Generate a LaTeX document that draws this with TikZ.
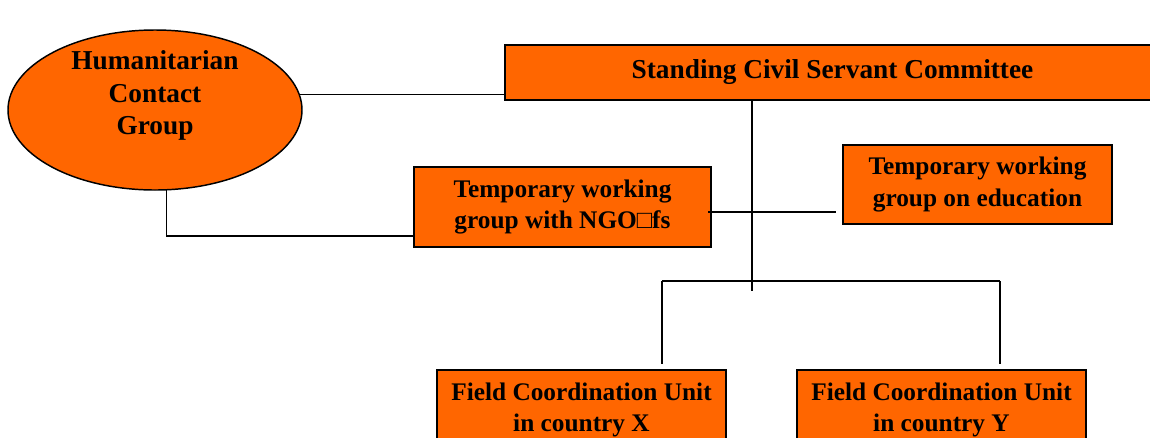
\documentclass[tikz,border=0pt]{standalone}
\usepackage{fontspec}
\setmainfont{Liberation Serif}
\usetikzlibrary{shapes.geometric}
\definecolor{unitorange}{RGB}{255,102,0}
\tikzset{
  unit/.style={draw=black, line width=1.5pt, fill=unitorange, inner sep=0pt, align=center,
    font=\bfseries\fontsize{20.5}{24}\selectfont},
  small/.style={font=\bfseries\fontsize{19}{23.5}\selectfont},
  label/.style={inner sep=0pt, align=center, font=\bfseries\fontsize{20.5}{24.5}\selectfont},
  link/.style={draw=black, line width=1.1pt},
}

\begin{document}
\begin{tikzpicture}[x=0.75pt,y=0.75pt,yscale=-1,xscale=1]
\useasboundingbox (0,0) rectangle (1150,437);
\clip (0,0) rectangle (1150,437);

%Shape: Ellipse
\node (hcg) [unit, ellipse, line width=1.1pt, minimum width=220.5pt, minimum height=120pt] at (155,110) {};
% Text Node
\node (hcgtext) [label] at (155,95.5) {Humanitarian\\Contact\\Group};

%Shape: Rectangles
\node (scsc) [unit, minimum width=491.25pt, minimum height=41.25pt] at (832.5,72.5) {Standing Civil Servant Committee};
\node (ngo) [unit, small, minimum width=222.75pt, minimum height=60pt] at (562.5,207) {Temporary working\\group with NGO□fs};
\node (edu) [unit, small, minimum width=201.75pt, minimum height=59.25pt] at (977.5,184.5) {Temporary working\\group on education};
\node (fcux) [unit, small, minimum width=216.75pt, minimum height=60pt] at (581.5,410) {Field Coordination Unit\\in country X};
\node (fcuy) [unit, small, minimum width=216.75pt, minimum height=60pt] at (941.5,410) {Field Coordination Unit\\in country Y};

%Straight Lines
\draw [link] (hcg.6) -- (hcg.6 -| scsc.west);
\coordinate (spine) at (752,291);
\draw [link] (scsc.south -| spine) -- (spine);
\coordinate (ngoout) at ([shift={(-4,5)}]ngo.east);
\draw [link] (ngoout) -- ([xshift=-4.5pt]ngoout -| edu.west);
\draw [link] (hcg.-82) |- ([yshift=21.75pt]ngo.west);
\coordinate (forkl) at (662,281);
\coordinate (forkr) at (1000,281);
\draw [link] (forkl) -- (forkr);
\draw [link] (forkl) -- ++(0,83);
\draw [link] (forkr) -- ++(0,83);

\end{tikzpicture}
\end{document}
